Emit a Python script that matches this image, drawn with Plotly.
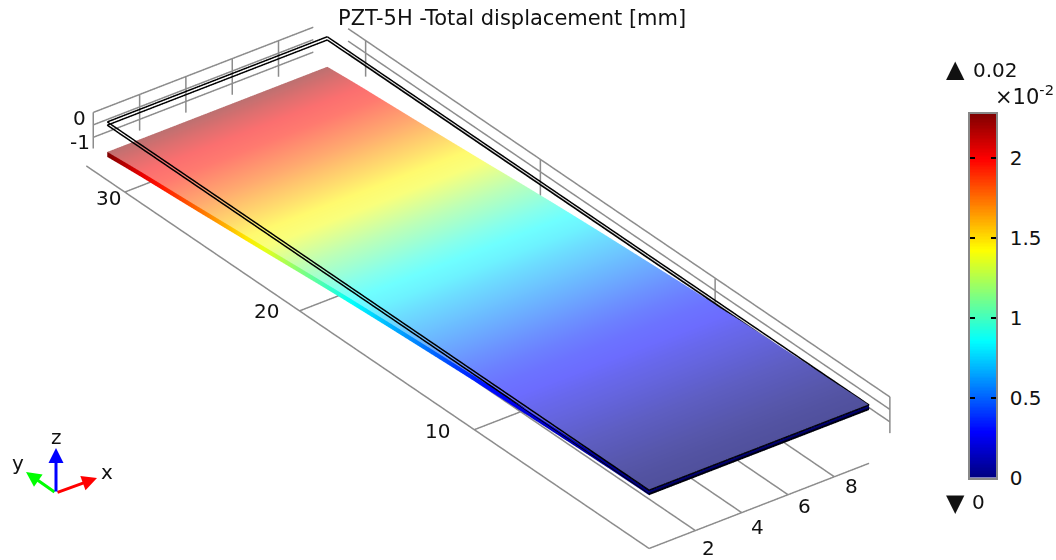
import numpy as np
import plotly.graph_objects as go

W_PX, H_PX = 1056, 560
TITLE = "PZT-5H -Total displacement [mm]"

# Geometry of the plate (mm)
PLATE_WIDTH = 9.5
PLATE_LENGTH = 31.0
PLATE_THICK = 0.2
FRAME_THICK = 0.13
DEFORM_SCALE = 0.53  # z drop per unit of displayed displacement

# Data: displacement (x 10^-2 mm) along the length
y_stations = list(range(32))
displacement = [0.00, 0.01, 0.03, 0.06, 0.09, 0.13, 0.17, 0.21, 0.26, 0.31, 0.36,
                0.42, 0.49, 0.56, 0.63, 0.70, 0.78, 0.86, 0.95, 1.05, 1.15,
                1.26, 1.37, 1.47, 1.57, 1.67, 1.77, 1.86, 1.95, 2.04, 2.15, 2.275]
DISP_MAX = 2.275

x_ticks = [2, 4, 6, 8]
y_ticks = [10, 20, 30]
z_ticks = [0, -1]
z_grid = [0, -0.5, -1]
wall_x_lines = [0, 2, 4, 6, 8]
wall_y_lines = [0, 10, 20, 30]
cbar_ticks = [0, 0.5, 1, 1.5, 2]
cbar_labels = ["0", "0.5", "1", "1.5", "2"]

# Pixel offsets of tick labels from their tick positions
x_label_shift = [(13, 17), (16, 14), (16, 11), (17, 9)]
y_label_shift = [(-37, 1), (-33, 0), (-16, 6)]
z_label_shift = [(-14, 6), (-13, 4.5)]

# Bounding grid positions
FLOOR_Z = -2.34
FLOOR_Y_END = 32.2
WALL_X = 10.4
WALL_Y = 31.8
WALL_BOTTOM = -1.45

# Rainbow colour table
stops = [0, 0.125, 0.375, 0.625, 0.875, 1]
stop_r = [0, 0, 0, 255, 255, 128]
stop_g = [0, 0, 255, 255, 0, 0]
stop_b = [128, 255, 255, 0, 0, 0]
colorscale = [[s, f"rgb({r},{g},{b})"] for s, r, g, b in zip(stops, stop_r, stop_g, stop_b)]

def jet(v):
    f = np.asarray(v, float) / DISP_MAX
    return np.stack([np.interp(f, stops, c) for c in (stop_r, stop_g, stop_b)], -1)

def rgb(c):
    c = np.clip(c, 0, 255)
    return [f"rgb({int(a)},{int(b)},{int(d)})" for a, b, d in c]

y = np.array(y_stations, float)
u = np.array(displacement)
ztop = -u * DEFORM_SCALE

# Lighting on the top face: diffuse factor and ambient level along the length
DIFFUSE = 0.6
ambient_y = [0, 8, 31]
ambient_v = [80, 108, 112]
amb = np.interp(y, ambient_y, ambient_v)[:, None]

fig = go.Figure()

def quad_strip(ax, ay, az, bx, by, bz, ca, cb):
    n = len(ax)
    X = np.r_[ax, bx]; Y = np.r_[ay, by]; Z = np.r_[az, bz]
    s = np.arange(n - 1)
    i = np.r_[s, s + 1]
    j = np.r_[s + 1, s + n + 1]
    k = np.r_[s + n, s + n]
    fig.add_trace(go.Mesh3d(x=X, y=Y, z=Z, i=i, j=j, k=k,
                            vertexcolor=rgb(np.r_[ca, cb]),
                            lighting=dict(ambient=1, diffuse=0, specular=0, roughness=1, fresnel=0),
                            flatshading=False, hoverinfo="skip", showscale=False))

base = jet(u)
top_col = DIFFUSE * base + amb
n = len(y)
# top face
quad_strip(np.zeros(n), y, ztop, np.full(n, PLATE_WIDTH), y, ztop, top_col, top_col)
# long side face
quad_strip(np.zeros(n), y, ztop, np.zeros(n), y, ztop - PLATE_THICK, base, base)
# root end face
quad_strip(np.array([0, PLATE_WIDTH]), np.zeros(2), np.array([0, 0]),
           np.array([0, PLATE_WIDTH]), np.zeros(2), np.array([-PLATE_THICK, -PLATE_THICK]),
           np.tile([0, 0, 170], (2, 1)), np.tile([0, 0, 0], (2, 1)))

def lines(segs, color, width):
    xs, ys, zs = [], [], []
    for a, b in segs:
        xs += [a[0], b[0], None]; ys += [a[1], b[1], None]; zs += [a[2], b[2], None]
    fig.add_trace(go.Scatter3d(x=xs, y=ys, z=zs, mode="lines",
                               line=dict(color=color, width=width),
                               hoverinfo="skip", showlegend=False))

GRID = "rgb(140,140,140)"
grid = []
# floor
grid.append(((0, 0, FLOOR_Z), (PLATE_WIDTH, 0, FLOOR_Z)))
grid.append(((0, 0, FLOOR_Z), (0, FLOOR_Y_END, FLOOR_Z)))
for t in x_ticks:
    grid.append(((t, 0, FLOOR_Z), (t, PLATE_LENGTH, FLOOR_Z)))
for t in y_ticks:
    grid.append(((0, t, FLOOR_Z), (PLATE_WIDTH, t, FLOOR_Z)))
# far wall
for z in z_grid:
    grid.append(((0, WALL_Y, z), (PLATE_WIDTH, WALL_Y, z)))
for t in wall_x_lines:
    grid.append(((t, WALL_Y, 0), (t, WALL_Y, WALL_BOTTOM)))
# right wall
for z in z_grid:
    grid.append(((WALL_X, 0, z), (WALL_X, PLATE_LENGTH, z)))
for t in wall_y_lines:
    grid.append(((WALL_X, t, 0), (WALL_X, t, WALL_BOTTOM)))
lines(grid, GRID, 3)

frame = []
for z in (0, -FRAME_THICK):
    c = [(0, 0, z), (PLATE_WIDTH, 0, z), (PLATE_WIDTH, PLATE_LENGTH, z), (0, PLATE_LENGTH, z)]
    frame += [(c[m], c[(m + 1) % 4]) for m in range(4)]
lines(frame, "black", 3)

# Camera (orthographic)
xr, yr, zr = [-1, 12], [-2, 34], [-3, 1]
WORLD_SCALE = 3.73
SPAN = 36.0 / WORLD_SCALE
view_dir = np.array([-0.517, -0.685, 0.513])
cam_target = np.array([5.67, 14.44, -0.489])
rc = np.array([np.mean(xr), np.mean(yr), np.mean(zr)])
center = (cam_target - rc) / SPAN
EYE_DIST = 3.0
eye = center + view_dir * EYE_DIST

TXT = "#111"
ANN = dict(showarrow=False, font=dict(family="DejaVu Sans", size=20, color=TXT),
           xanchor="center", yanchor="middle")
scene_ann = []
for t, (dx, dy) in zip(x_ticks, x_label_shift):
    scene_ann.append(dict(x=t, y=0, z=FLOOR_Z, text=str(t), xshift=dx, yshift=-dy, **ANN))
for t, (dx, dy) in zip(y_ticks, y_label_shift):
    scene_ann.append(dict(x=0, y=t, z=FLOOR_Z, text=str(t), xshift=dx, yshift=-dy, **ANN))
for t, (dx, dy) in zip(z_ticks, z_label_shift):
    scene_ann.append(dict(x=0, y=WALL_Y, z=t, text=str(t), xshift=dx, yshift=-dy, **ANN))

hidden = dict(visible=False, showgrid=False, zeroline=False, showticklabels=False,
              showspikes=False, showbackground=False, autorange=False)
fig.update_layout(
    autosize=False,
    width=W_PX, height=H_PX, margin=dict(l=0, r=0, t=0, b=0, pad=0, autoexpand=False),
    paper_bgcolor="white", plot_bgcolor="white", showlegend=False,
    scene=dict(
        domain=dict(x=[0, 1], y=[0, 1]),
        xaxis=dict(range=xr, **hidden), yaxis=dict(range=yr, **hidden), zaxis=dict(range=zr, **hidden),
        aspectmode="manual",
        aspectratio=dict(x=(xr[1] - xr[0]) / SPAN, y=(yr[1] - yr[0]) / SPAN, z=(zr[1] - zr[0]) / SPAN),
        camera=dict(projection=dict(type="orthographic"), up=dict(x=0, y=0, z=1),
                    eye=dict(x=eye[0], y=eye[1], z=eye[2]),
                    center=dict(x=center[0], y=center[1], z=center[2])),
        annotations=scene_ann,
    ),
)

# Colour bar drawn as a heat map on its own axes
cbar_y = np.linspace(0, DISP_MAX, 256)
fig.add_trace(go.Heatmap(z=cbar_y[:, None].repeat(2, 1), x=[0, 1], y=cbar_y, colorscale=colorscale,
                         zmin=0, zmax=DISP_MAX, showscale=False, hoverinfo="skip",
                         xaxis="x", yaxis="y"))
fig.update_layout(
    xaxis=dict(domain=[970 / W_PX, 996 / W_PX], range=[-0.5, 1.5], visible=True, showticklabels=False,
               ticks="", showgrid=False, zeroline=False, showline=True, linecolor="#888", linewidth=1.5,
               mirror=True, anchor="y"),
    yaxis=dict(domain=[1 - 477.5 / H_PX, 1 - 114 / H_PX], range=[0, DISP_MAX], side="right",
               anchor="x", tickvals=cbar_ticks, ticktext=cbar_labels, ticks="inside", ticklen=5,
               tickwidth=1.5, tickcolor="black", mirror="ticks", showline=True, linecolor="#888",
               linewidth=1.5, showgrid=False, zeroline=False, ticklabelstandoff=8,
               tickfont=dict(family="DejaVu Sans", size=20, color=TXT)),
)

def px(xp, yp):
    return xp / W_PX, 1 - yp / H_PX

notes = []
def text(xp, yp, s, size=20, anchor="center"):
    a, b = px(xp, yp)
    notes.append(dict(x=a, y=b, xref="paper", yref="paper", text=s, showarrow=False,
                      xanchor=anchor, yanchor="middle",
                      font=dict(family="DejaVu Sans", size=size, color=TXT)))

text(512, 18, TITLE, size=21)
text(955, 69, "▲", size=24)
text(995, 70, "0.02")
text(1024, 95, "×10<sup>-2</sup>", size=21)
text(955, 503, "▼", size=24)
text(978, 502, "0")
text(107, 472, "x")
text(18, 463, "y")
text(56, 437, "z")

def arrow(tail, tip, color):
    a, b = px(*tip)
    notes.append(dict(x=a, y=b, xref="paper", yref="paper", text="", showarrow=True,
                      ax=tail[0] - tip[0], ay=tail[1] - tip[1], axref="pixel", ayref="pixel",
                      arrowcolor=color, arrowwidth=3, arrowhead=2, arrowsize=1))

TRIAD_ORIGIN = (56, 493)
arrow(TRIAD_ORIGIN, (97, 478), "rgb(255,0,0)")
arrow(TRIAD_ORIGIN, (26, 472), "rgb(0,255,0)")
arrow(TRIAD_ORIGIN, (56, 448), "rgb(0,0,255)")
fig.update_layout(annotations=notes)

fig.write_html("out.html", default_width="1056px", default_height="560px",
               config=dict(displayModeBar=False),
               post_script="document.body.style.margin='0';")
